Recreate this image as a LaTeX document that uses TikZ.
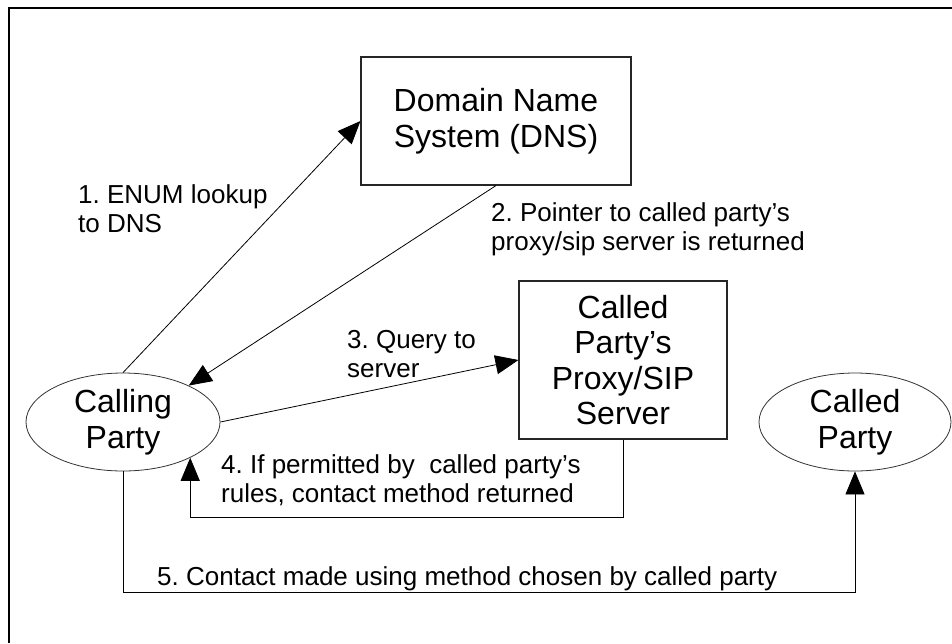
\documentclass[tikz,border=0pt]{standalone}
\usepackage{fontspec}
\setmainfont{Liberation Sans}
\usetikzlibrary{arrows.meta,shapes.geometric}
\frenchspacing
\begin{document}
\begin{tikzpicture}[x=1pt,y=-1pt,
  boxnode/.style={draw=black!85,line width=1.1pt,rectangle,inner sep=0pt,align=center,
    font=\fontsize{32}{35.5}\selectfont},
  partynode/.style={draw=black!80,line width=0.8pt,ellipse,inner sep=0pt,align=center,
    font=\fontsize{32}{35.5}\selectfont,minimum height=98pt},
  conn/.style={draw=black,line width=0.8pt},
  tipped/.style={conn,-{Triangle[length=23pt,width=19pt]}},
  lbl/.style={anchor=base west,align=left,inner sep=0pt,
    font=\fontsize{26}{29}\selectfont}]
\useasboundingbox (0,0) rectangle (952,643);
\fill[white] (0,0) rectangle (952,643);
\draw[line width=2pt] (9,643) -- (9,8) -- (952,8);

\node[boxnode,minimum width=270pt,minimum height=128pt] (dns) at (496,121) {Domain Name\\System (DNS)};
\node[boxnode,minimum width=208pt,minimum height=158pt] (proxy) at (623,360) {Called\\Party’s\\Proxy/SIP\\Server};
\node[partynode,minimum width=194pt] (calling) at (123,422) {Calling\\Party};
\node[partynode,minimum width=192pt] (called) at (855,422) {Called\\Party};

\draw[tipped] (calling.north) -- (dns.west);
\draw[tipped] (dns.south) -- (calling.29);
\draw[tipped] (calling.east) -- (proxy.west);
\draw[tipped] (proxy.south) -- ++(0,78) -| (calling.-28);
\draw[tipped] (calling.south) -- ++(0,121) -| (called.south);

\node[lbl] (l1) at (78,232) {1. ENUM lookup\\to DNS};
\node[lbl] (l2) at (491,250) {2. Pointer to called party’s\\proxy/sip server is returned};
\node[lbl] (l3) at (347,377) {3. Query to\\server};
\node[lbl] (l4) at (221,502) {4. If permitted by \ called party’s\\rules, contact method returned};
\node[lbl] (l5) at (157,585) {5. Contact made using method chosen by called party};
\end{tikzpicture}
\end{document}
